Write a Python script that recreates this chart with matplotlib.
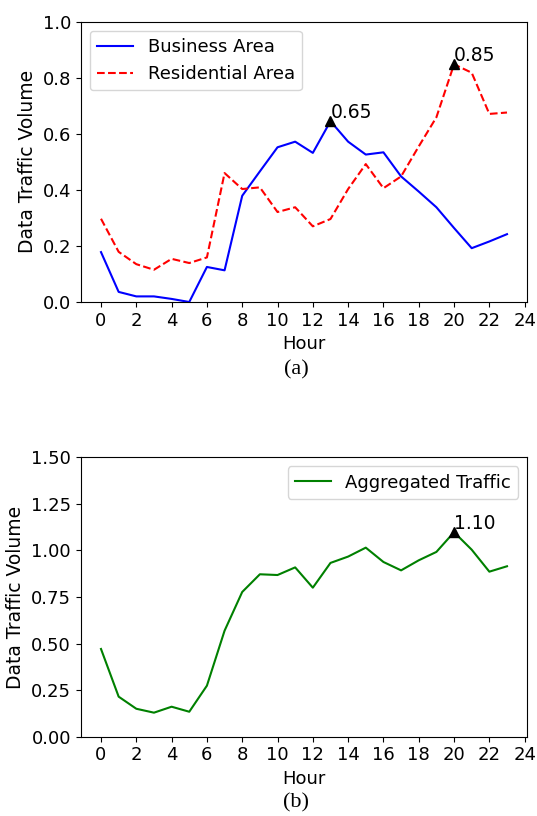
import matplotlib
matplotlib.use("Agg")
import matplotlib.pyplot as plt

hours = list(range(24))
business = [0.178, 0.036, 0.020, 0.020, 0.011, 0.0, 0.125, 0.113, 0.379, 0.466,
            0.552, 0.572, 0.532, 0.645, 0.572, 0.526, 0.534, 0.448, 0.394, 0.338,
            0.264, 0.192, 0.216, 0.242]
residential = [0.297, 0.179, 0.135, 0.115, 0.154, 0.139, 0.159, 0.460, 0.403, 0.409,
               0.321, 0.338, 0.270, 0.296, 0.403, 0.492, 0.406, 0.448, 0.555, 0.659,
               0.848, 0.818, 0.671, 0.676]
aggregated = [0.471, 0.215, 0.150, 0.129, 0.161, 0.134, 0.274, 0.569, 0.777, 0.872,
              0.868, 0.909, 0.800, 0.933, 0.967, 1.015, 0.938, 0.893, 0.947, 0.992,
              1.098, 1.004, 0.886, 0.915]
xticks = list(range(0, 25, 2))

W, H = 537, 816
fig = plt.figure(figsize=(W / 100, H / 100), dpi=100)
fs = 13
lfs = 13.5

def add_axes(left, top, right, bottom):
    return fig.add_axes([left / W, 1 - bottom / H, (right - left) / W, (bottom - top) / H])

ax1 = add_axes(80.7, 21.7, 527.3, 302)
ax1.plot(hours, business, color='b', lw=1.5, label='Business Area')
ax1.plot(hours, residential, color='r', ls='--', lw=1.5, label='Residential Area')
i1 = business.index(max(business))
i2 = residential.index(max(residential))
ax1.plot(hours[i1], business[i1], '^', color='k', ms=6.5)
ax1.plot(hours[i2], residential[i2], '^', color='k', ms=6.5)
ax1.annotate('%.2f' % business[i1], xy=(hours[i1], business[i1] + 0.012), fontsize=lfs)
ax1.annotate('%.2f' % residential[i2], xy=(hours[i2], residential[i2] + 0.012), fontsize=lfs)
ax1.set_ylim(0, 1.0)
ax1.set_xticks(xticks)
ax1.tick_params(labelsize=fs)
ax1.set_xlabel('Hour', fontsize=fs)
ax1.set_ylabel('Data Traffic Volume', fontsize=lfs)
ax1.legend(loc='upper left', fontsize=fs)

ax2 = add_axes(80.7, 457.3, 527.3, 736.7)
ax2.plot(hours, aggregated, color='g', lw=1.5, label='Aggregated Traffic')
i3 = aggregated.index(max(aggregated))
ax2.plot(hours[i3], aggregated[i3], '^', color='k', ms=6.5)
ax2.annotate('%.2f' % aggregated[i3], xy=(hours[i3], aggregated[i3] + 0.018), fontsize=lfs)
ax2.set_ylim(0, 1.5)
ax2.set_yticks([0, 0.25, 0.5, 0.75, 1.0, 1.25, 1.5])
ax2.set_xticks(xticks)
ax2.tick_params(labelsize=fs)
ax2.set_xlabel('Hour', fontsize=fs)
ax2.set_ylabel('Data Traffic Volume', fontsize=lfs)
ax2.legend(loc='upper right', fontsize=fs)

fig.text(296 / W, 1 - 370 / H, '(a)', family='Liberation Serif', fontsize=16, ha='center', va='center')
fig.text(296 / W, 1 - 803 / H, '(b)', family='Liberation Serif', fontsize=16, ha='center', va='center')

fig.savefig('out.png', dpi=100)
